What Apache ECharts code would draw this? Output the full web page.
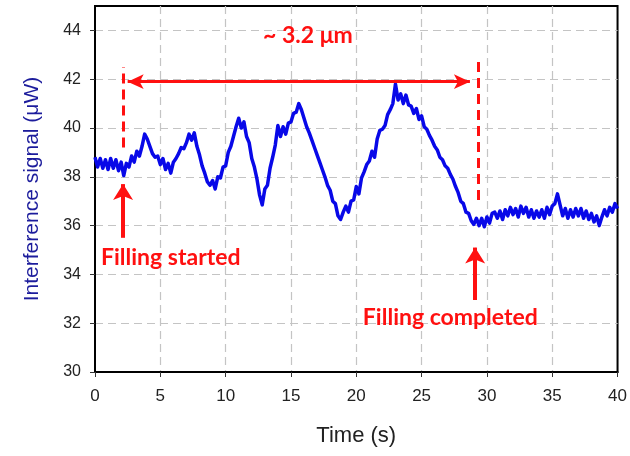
<!DOCTYPE html>
<html>
<head>
<meta charset="utf-8">
<script src="https://cdn.jsdelivr.net/npm/echarts@6/dist/echarts.min.js"></script>
<style>
  html, body { margin: 0; padding: 0; background: #fff; }
  #chart { width: 630px; height: 456px; }
</style>
</head>
<body>
<div id="chart"></div>
<script>
// sampling interval of the recorded trace (s)
const sampleStep = 0.2;

// interference signal (uW), one row per second, 5 samples each
const signal = [
  38.8, 38.4, 38.75, 38.35, 38.7,
  38.3, 38.75, 38.35, 38.7, 38.25,
  38.6, 38.05, 38.55, 38.4, 38.85,
  38.6, 39.05, 38.85, 39.25, 39.75,
  39.55, 39.25, 38.95, 38.8, 38.85,
  38.5, 38.75, 38.3, 38.55, 38.15,
  38.6, 38.75, 38.95, 39.2, 39.15,
  39.4, 39.75, 39.5, 39.8, 39.25,
  38.9, 38.45, 38.15, 37.8, 37.65,
  37.85, 37.5, 38.0, 37.95, 38.4,
  38.45, 39.0, 39.25, 39.65, 40.05,
  40.4, 40.0, 40.25, 39.65, 39.4,
  38.75, 38.4, 37.9, 37.25, 36.85,
  37.5, 37.65, 38.35, 38.8, 39.3,
  40.1, 39.65, 40.05, 39.75, 40.2,
  40.25, 40.6, 40.65, 41.0, 40.75,
  40.4, 40.05, 39.8, 39.5, 39.2,
  38.9, 38.6, 38.3, 38.0, 37.65,
  37.45, 37.0, 36.9, 36.4, 36.25,
  36.55, 36.8, 36.55, 37.0, 37.05,
  37.6, 37.3, 37.95, 38.2, 38.5,
  38.65, 39.05, 38.8, 39.55, 39.9,
  39.95, 40.1, 40.55, 40.75, 41.0,
  41.8, 41.15, 41.4, 41.0, 41.35,
  40.95, 40.9, 40.6, 40.8, 40.35,
  40.5, 40.05, 39.95, 39.7, 39.5,
  39.25, 39.1, 38.8, 38.7, 38.45,
  38.35, 38.1, 37.9, 37.6, 37.35,
  37.0, 36.9, 36.55, 36.5, 36.2,
  36.05, 36.3, 36.0, 36.3, 35.95,
  36.35, 36.1, 36.5, 36.55, 36.3,
  36.6, 36.25, 36.65, 36.4, 36.75,
  36.45, 36.7, 36.35, 36.8, 36.5,
  36.75, 36.35, 36.65, 36.3, 36.6,
  36.35, 36.65, 36.3, 36.75, 36.45,
  36.8, 36.9, 37.3, 36.85, 36.4,
  36.7, 36.3, 36.65, 36.35, 36.7,
  36.4, 36.7, 36.3, 36.6, 36.25,
  36.5, 36.15, 36.4, 36.0, 36.35,
  36.65, 36.4, 36.75, 36.55, 36.9,
  36.7
];

const xTicks = [0, 5, 10, 15, 20, 25, 30, 35, 40];
const yTicks = [30, 32, 34, 36, 38, 40, 42, 44];

// annotation geometry in data units [time, signal]
const spanArrow = [[2.5, 41.9], [28.7, 41.9]];
const startDash = [[2.15, 39.2], [2.15, 42.5]];
const endDash = [[29.35, 37.05], [29.35, 42.7]];
const startArrow = [[2.15, 35.5], [2.15, 37.7]];
const endArrow = [[29.1, 32.95], [29.1, 35.1]];
const notes = [
  { text: '~ 3.2 μm', at: [16.3, 43.8] },
  { text: 'Filling started', at: [5.8, 34.7] },
  { text: 'Filling completed', at: [27.2, 32.25] }
];

const red = '#ff1010';
const trace = signal.map((v, i) => [+(i * sampleStep).toFixed(1), v]);

const chart = echarts.init(document.getElementById('chart'));

const gridLine = {
  show: true,
  showMinLine: false,
  showMaxLine: false,
  lineStyle: { color: '#c4c4c4', width: 1.2, type: [8, 5] }
};
const axisText = { fontFamily: 'Liberation Sans', color: '#222' };

const option = {
  animation: false,
  backgroundColor: '#fff',
  grid: {
    left: 95, right: 12, top: 6, bottom: 84,
    show: true, borderColor: '#000', borderWidth: 2
  },
  xAxis: {
    type: 'value',
    min: xTicks[0], max: xTicks[xTicks.length - 1], interval: 5,
    name: 'Time (s)',
    nameLocation: 'middle',
    nameGap: 53,
    nameTextStyle: { fontFamily: 'Liberation Sans', fontSize: 22, color: '#222' },
    axisLine: { show: true, lineStyle: { color: '#000', width: 2 } },
    axisTick: { show: true, length: 5, lineStyle: { color: '#333' } },
    axisLabel: Object.assign({ fontSize: 17, margin: 16 }, axisText),
    splitLine: gridLine
  },
  yAxis: {
    type: 'value',
    min: yTicks[0], max: 45, interval: 2,
    name: 'Interference signal (μW)',
    nameLocation: 'middle',
    nameGap: 52,
    nameTextStyle: { fontFamily: 'Liberation Sans', fontSize: 21, color: '#1c1c9c' },
    axisLine: { show: true, lineStyle: { color: '#000', width: 2 } },
    axisTick: { show: true, length: 5, lineStyle: { color: '#333' } },
    axisLabel: Object.assign({ fontSize: 16, margin: 14, showMaxLabel: false }, axisText),
    splitLine: gridLine
  },
  series: [
    {
      name: 'signal',
      type: 'line',
      data: trace,
      showSymbol: false,
      lineStyle: { color: '#0808e8', width: 3.5, join: 'round' },
      z: 3
    },
    {
      name: 'annotations',
      type: 'line',
      data: [],
      z: 4,
      markLine: {
        silent: true,
        label: { show: false },
        symbol: 'none',
        data: [
          [
            { coord: startDash[0], lineStyle: { type: [10, 6], width: 3, color: red } },
            { coord: startDash[1] }
          ],
          [
            { coord: endDash[0], lineStyle: { type: [10, 6], width: 3, color: red } },
            { coord: endDash[1] }
          ],
          [
            { coord: spanArrow[0], symbol: 'arrow', symbolSize: [11, 16],
              lineStyle: { type: 'solid', width: 3, color: red } },
            { coord: spanArrow[1], symbol: 'arrow', symbolSize: [11, 16] }
          ],
          [
            { coord: startArrow[0], lineStyle: { type: 'solid', width: 4, color: red } },
            { coord: startArrow[1], symbol: 'arrow', symbolSize: [15, 16] }
          ],
          [
            { coord: endArrow[0], lineStyle: { type: 'solid', width: 4, color: red } },
            { coord: endArrow[1], symbol: 'arrow', symbolSize: [15, 16] }
          ]
        ]
      },
      markPoint: {
        silent: true,
        symbol: 'circle',
        symbolSize: 0,
        label: {
          show: true,
          position: 'inside',
          color: red,
          fontFamily: 'Lato',
          fontWeight: 'bold',
          fontSize: 23
        },
        data: notes.map((n) => ({ coord: n.at, value: n.text, label: { formatter: n.text } }))
      }
    }
  ]
};

chart.setOption(option);
</script>
</body>
</html>
